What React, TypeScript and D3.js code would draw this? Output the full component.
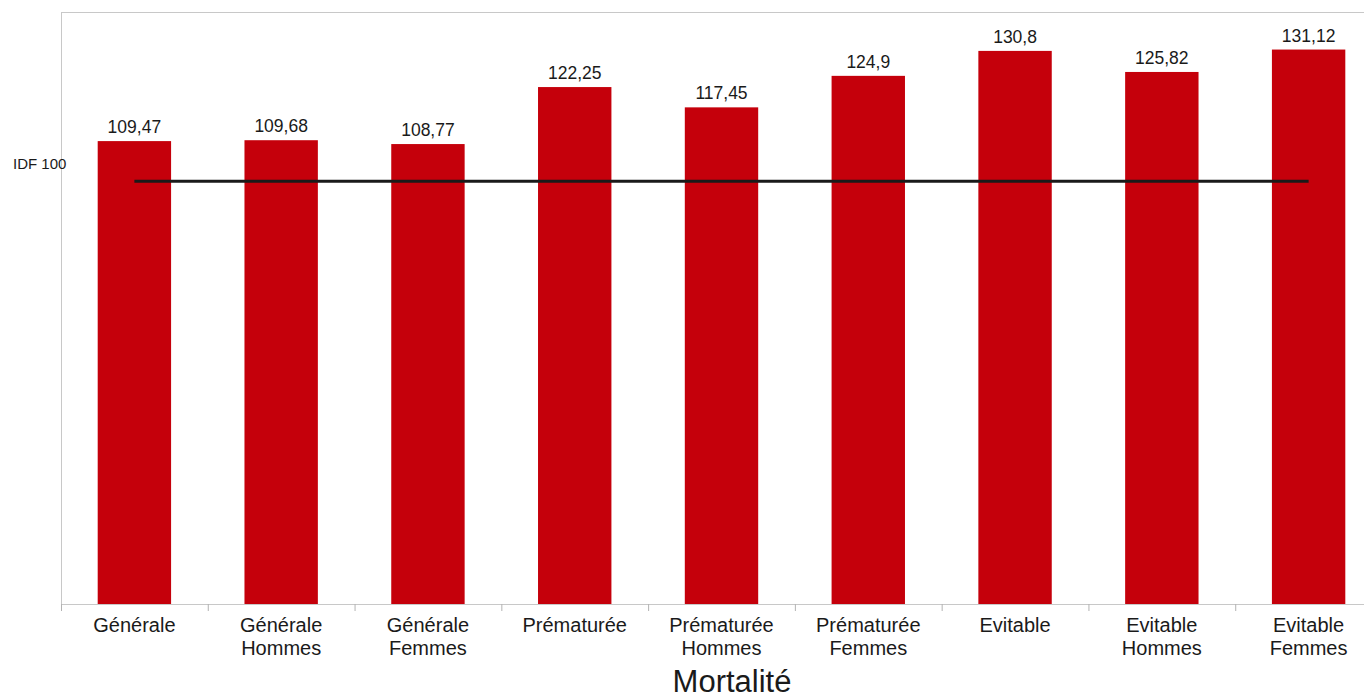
import React from "react";
import * as d3 from "d3";

const categories: string[][] = [
  ["Générale"],
  ["Générale", "Hommes"],
  ["Générale", "Femmes"],
  ["Prématurée"],
  ["Prématurée", "Hommes"],
  ["Prématurée", "Femmes"],
  ["Evitable"],
  ["Evitable", "Hommes"],
  ["Evitable", "Femmes"],
];
const values: number[] = [109.47, 109.68, 108.77, 122.25, 117.45, 124.9, 130.8, 125.82, 131.12];
const valueLabels: string[] = ["109,47", "109,68", "108,77", "122,25", "117,45", "124,9", "130,8", "125,82", "131,12"];
const reference: number = 100;
const referenceLabel = "IDF 100";
const axisTitle = "Mortalité";

const W = 1364;
const H = 695;
const left = 61;
const top = 12;
const bottom = 604;
const right = 1382;
const font = "'Liberation Sans', Arial, sans-serif";

export default function App() {
  const keys = categories.map((_, i) => String(i));
  const x = d3.scaleBand<string>().domain(keys).range([left, right]).paddingInner(0.5).paddingOuter(0.25);
  const xOuter = d3.scaleBand<string>().domain(keys).range([left, right]);
  const y = d3.scaleLinear().domain([0, 140]).range([bottom, top]);
  const cx = (i: number) => (xOuter(String(i)) as number) + xOuter.bandwidth() / 2;

  return (
    <svg width={W} height={H} style={{ position: "absolute", left: 0, top: 0, background: "#fff" }}>
      <line x1={left} x2={W} y1={top + 0.5} y2={top + 0.5} stroke="#c8c8c8" />
      <line x1={left + 0.5} x2={left + 0.5} y1={top} y2={bottom} stroke="#c8c8c8" />
      {values.map((v, i) => (
        <g key={i}>
          <rect
            x={x(String(i))}
            y={y(v)}
            width={x.bandwidth()}
            height={bottom - y(v)}
            fill="#c5000b"
          />
          <text
            x={cx(i)}
            y={y(v) - 8}
            textAnchor="middle"
            fontFamily={font}
            fontSize={17.5}
            fill="#1a1a1a"
          >
            {valueLabels[i]}
          </text>
        </g>
      ))}
      <line x1={left} x2={W} y1={bottom + 0.5} y2={bottom + 0.5} stroke="#c8c8c8" />
      {keys.map((k) => (
        <line
          key={k}
          x1={(xOuter(k) as number) + 0.5}
          x2={(xOuter(k) as number) + 0.5}
          y1={bottom}
          y2={bottom + 7}
          stroke="#b3b3b3"
        />
      ))}
      {categories.map((lines, i) => (
        <text key={i} x={cx(i)} textAnchor="middle" fontFamily={font} fontSize={20} fill="#1a1a1a">
          {lines.map((l, j) => (
            <tspan key={j} x={cx(i)} y={632 + j * 23}>
              {l}
            </tspan>
          ))}
        </text>
      ))}
      <line
        x1={cx(0)}
        x2={cx(values.length - 1)}
        y1={y(reference)}
        y2={y(reference)}
        stroke="#1a1a1a"
        strokeWidth={3}
      />
      <text x={13} y={y(reference) - 12.5} fontFamily={font} fontSize={15} fill="#1a1a1a">
        {referenceLabel}
      </text>
      <text x={732} y={692} textAnchor="middle" fontFamily={font} fontSize={31} fill="#1a1a1a">
        {axisTitle}
      </text>
    </svg>
  );
}
